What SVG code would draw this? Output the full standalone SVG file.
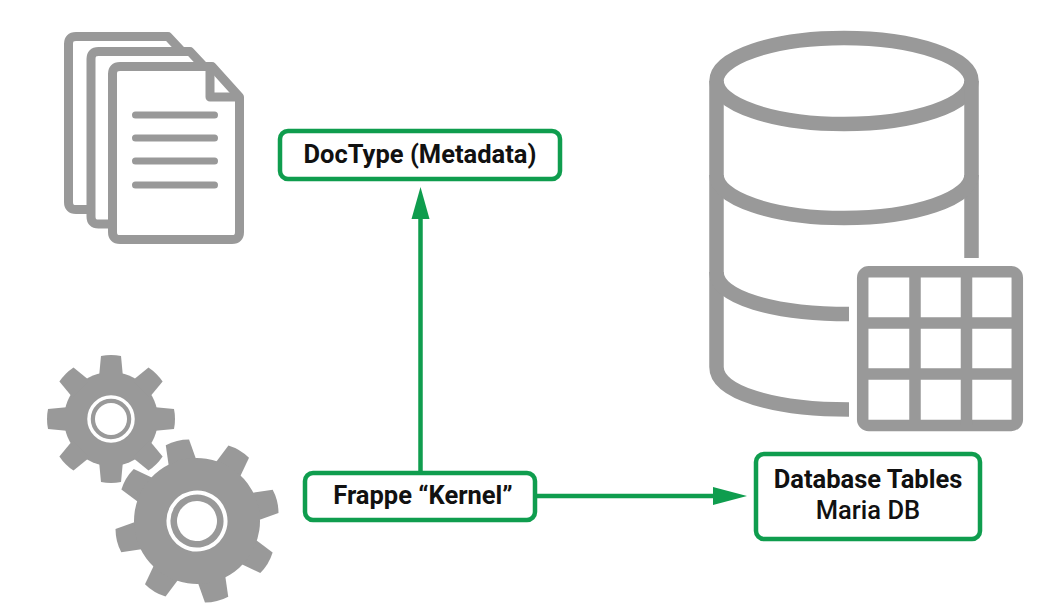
<svg xmlns="http://www.w3.org/2000/svg" width="1043" height="603" viewBox="0 0 1043 603">
<style>
.ico{fill:none;stroke:#999;stroke-linejoin:round}
.page{stroke-width:9;fill:#fff}
.txtl{stroke-width:7;stroke-linecap:round}
.db{stroke-width:14.5}
.tb{stroke-width:11.5}
.gear{fill:#999}
.box{fill:#fff;stroke:#0f9d4e;stroke-width:4.5}
.con{fill:none;stroke:#0f9d4e;stroke-width:4.5}
.head{fill:#0f9d4e}
text{font-family:Roboto,"Liberation Sans",sans-serif;fill:#111;text-anchor:middle;font-size:25.500px}
.b{font-weight:700}
.m{font-weight:500}
</style>
<defs>
<path id="t1" d="M-12,-42 L-10,-63 Q0,-65 10,-63 L12,-42 Z"/>
<path id="t2" d="M-14.500,-56 L-12,-81 Q0,-84 12,-81 L14.500,-56 Z"/>
</defs>
<g id="documents">
<path class="ico page" d="M68.500,44 Q68.500,36.500 76,36.500 H168 L190,60 V209.500 H76 Q68.500,209.500 68.500,202 Z"/>
<path class="ico page" d="M91,59 Q91,51.500 98.500,51.500 H190 L212,75 V224 H98.500 Q91,224 91,216.500 Z"/>
<path class="ico page" d="M112.500,74 Q112.500,66.500 120,66.500 H212 L239.500,97 V232 Q239.500,239.500 232,239.500 H120 Q112.500,239.500 112.500,232 Z"/>
<path class="ico page" style="fill:none" d="M210,67 V97 H239"/>
<path class="ico txtl" d="M135.500,115 H214.500 M135.500,138 H214.500 M135.500,161 H214.500 M135.500,185 H214.500"/>
</g>
<g id="gears">
<g id="gear-small" class="gear" transform="translate(111 419)">
<circle r="47"/>
<use href="#t1"/><use href="#t1" transform="rotate(45)"/><use href="#t1" transform="rotate(90)"/><use href="#t1" transform="rotate(135)"/><use href="#t1" transform="rotate(180)"/><use href="#t1" transform="rotate(225)"/><use href="#t1" transform="rotate(270)"/><use href="#t1" transform="rotate(315)"/>
<circle r="22" fill="none" stroke="#fff" stroke-width="3.500"/>
<circle r="16" fill="#fff"/>
</g>
<g id="gear-large" class="gear" transform="translate(197 521) rotate(-14)">
<g stroke="#fff" stroke-width="5">
<use href="#t2"/><use href="#t2" transform="rotate(45)"/><use href="#t2" transform="rotate(90)"/><use href="#t2" transform="rotate(135)"/><use href="#t2" transform="rotate(180)"/><use href="#t2" transform="rotate(225)"/><use href="#t2" transform="rotate(270)"/><use href="#t2" transform="rotate(315)"/>
<circle r="63"/>
</g>
<use href="#t2"/><use href="#t2" transform="rotate(45)"/><use href="#t2" transform="rotate(90)"/><use href="#t2" transform="rotate(135)"/><use href="#t2" transform="rotate(180)"/><use href="#t2" transform="rotate(225)"/><use href="#t2" transform="rotate(270)"/><use href="#t2" transform="rotate(315)"/>
<circle r="63"/>
<circle r="28.500" fill="none" stroke="#fff" stroke-width="4"/>
<circle r="20" fill="#fff"/>
</g>
</g>
<g id="database">
<ellipse class="ico db" cx="844" cy="81" rx="127.500" ry="43"/>
<path class="ico db" style="stroke-linejoin:miter" d="M716.500,81 V367 C716.500,393 775,409.500 849,409.500"/>
<path class="ico db" style="stroke-linejoin:miter" d="M971.500,81 V258"/>
<path class="ico db" d="M716.500,175 A127.500,43 0 0 0 971.500,175"/>
<path class="ico db" d="M716.500,272 C716.500,298 775,314 849,314"/>
<rect class="ico tb" x="862.700" y="271.700" width="154.600" height="153.700" rx="6" fill="#fff"/>
<path class="ico tb" style="stroke-linejoin:miter" d="M915,272 V425 M966.500,272 V425 M863,323 H1017 M863,374 H1017"/>
</g>
<g id="connectors">
<path class="con" d="M420.500,471 V217"/>
<path class="head" d="M420.500,187 L429.500,219 H411.500 Z"/>
<path class="con" d="M537,496 H715"/>
<path class="head" d="M747,496 L713,487 V505 Z"/>
</g>
<g id="node-doctype">
<rect class="box" x="280" y="131" width="280" height="48" rx="8"/>
<text class="b" x="420" y="163">DocType (Metadata)</text>
</g>
<g id="node-kernel">
<rect class="box" x="305" y="473" width="230" height="47" rx="8"/>
<text class="b" x="423" y="504">Frappe “Kernel”</text>
</g>
<g id="node-database">
<rect class="box" x="756" y="454" width="224" height="85" rx="8"/>
<text class="b" x="868" y="488">Database Tables</text>
<text class="m" x="868" y="519">Maria DB</text>
</g>
</svg>
